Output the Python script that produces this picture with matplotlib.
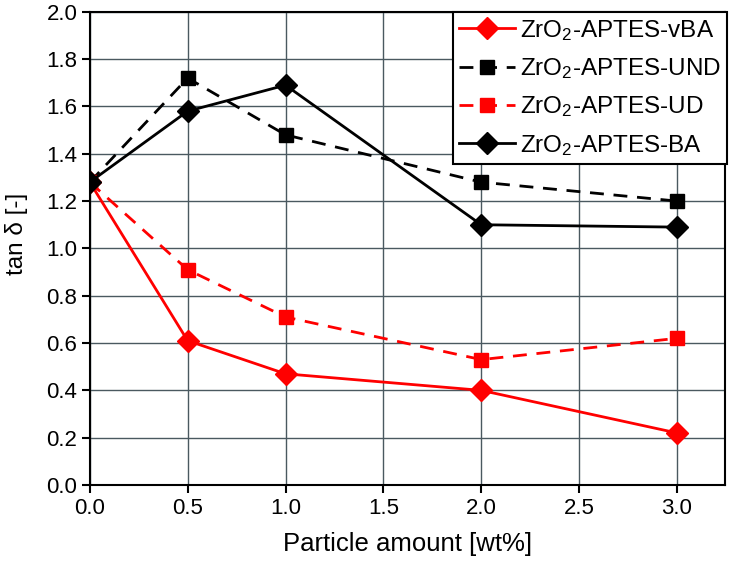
import matplotlib
matplotlib.use('Agg')
import matplotlib.pyplot as plt

plt.rcParams['font.family'] = 'Liberation Sans'
plt.rcParams['mathtext.fontset'] = 'custom'
plt.rcParams['mathtext.rm'] = 'Liberation Sans'
plt.rcParams['mathtext.it'] = 'Liberation Sans'

# particle amount in wt%
amount = [0.0, 0.5, 1.0, 2.0, 3.0]

# tan delta values
tan_vba = [1.28, 0.61, 0.47, 0.40, 0.22]
tan_und = [1.28, 1.72, 1.48, 1.28, 1.20]
tan_ud = [1.28, 0.91, 0.71, 0.53, 0.62]
tan_ba = [1.28, 1.58, 1.69, 1.10, 1.09]

labels = ['ZrO$_2$-APTES-vBA', 'ZrO$_2$-APTES-UND',
          'ZrO$_2$-APTES-UD', 'ZrO$_2$-APTES-BA']

fig = plt.figure(figsize=(7.3, 5.62), dpi=100)
ax = fig.add_axes([0.123, 0.137, 0.870, 0.842])

ax.plot(amount, tan_vba, color='#ff0000', linewidth=2, marker='D',
        markersize=11, label=labels[0], zorder=5)
ax.plot(amount, tan_und, color='black', linewidth=2, linestyle=(0, (5, 3.5)),
        marker='s', markersize=10, label=labels[1], zorder=4)
ax.plot(amount, tan_ud, color='#ff0000', linewidth=2, linestyle=(0, (5, 3.5)),
        marker='s', markersize=10, label=labels[2], zorder=4)
ax.plot(amount, tan_ba, color='black', linewidth=2, marker='D',
        markersize=11, label=labels[3], zorder=5)

ax.set_xlim(0, 3.245)
ax.set_ylim(0, 2.0)
ax.set_xticks([0, 0.5, 1.0, 1.5, 2.0, 2.5, 3.0])
ax.set_yticks([0.0, 0.2, 0.4, 0.6, 0.8, 1.0, 1.2, 1.4, 1.6, 1.8, 2.0])
ax.xaxis.set_major_formatter(matplotlib.ticker.FormatStrFormatter('%.1f'))
ax.yaxis.set_major_formatter(matplotlib.ticker.FormatStrFormatter('%.1f'))
ax.tick_params(direction='out', length=6, width=1.5, labelsize=16, pad=3)
ax.grid(color='#4a5960', linewidth=1)
ax.set_axisbelow(True)
for s in ax.spines.values():
    s.set_linewidth(1.5)

ax.set_xlabel('Particle amount [wt%]', fontsize=18.5, labelpad=10)
ax.set_ylabel('tan δ [-]', fontsize=17.5)
ax.yaxis.set_label_coords(-0.098, 0.53)

leg = ax.legend(loc='upper right', fontsize=17.5, frameon=True, fancybox=False,
                edgecolor='black', framealpha=1, handlelength=2.3,
                borderaxespad=0, labelspacing=0.55, handletextpad=0.2,
                borderpad=0.25, bbox_to_anchor=(1.003, 1.0))
leg.get_frame().set_linewidth(1.5)

fig.savefig('out.png', dpi=100)
